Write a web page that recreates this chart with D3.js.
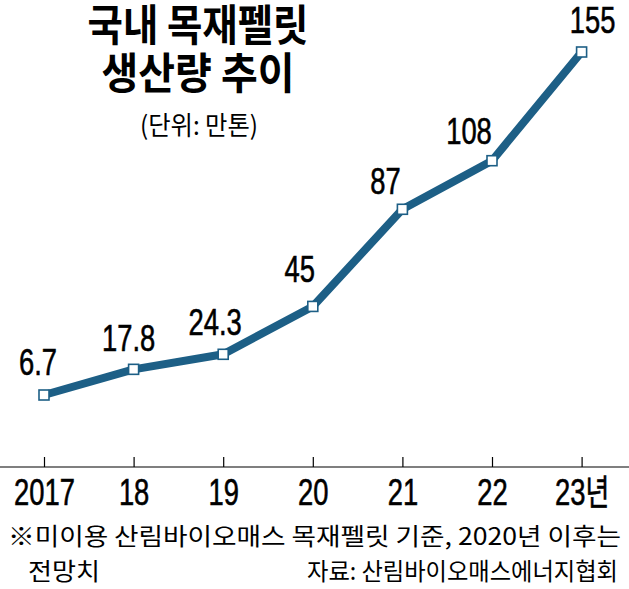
<!DOCTYPE html>
<html>
<head>
<meta charset="utf-8">
<script src="https://cdn.jsdelivr.net/npm/d3@7"></script>
<style>
  body { margin: 0; background: #fff; }
  svg { display: block; }
</style>
</head>
<body>
<svg id="chart" width="629" height="589"></svg>
<script>
const years = ['2017', '18', '19', '20', '21', '22', '23년'];
const values = [6.7, 17.8, 24.3, 45, 87, 108, 155];
const valueLabels = ['6.7', '17.8', '24.3', '45', '87', '108', '155'];

const width = 629;
const blue = '#1d5f86';
const numFont = '"Liberation Sans", Arial, sans-serif';
const krFont = '"Noto Sans CJK KR", "Noto Sans", sans-serif';
const narrow = 0.74; // the numbers are set in a condensed face

const svg = d3.select('#chart');

const x = d3.scalePoint()
  .domain(years)
  .range([44, 581.6]);
const y = d3.scaleLinear()
  .domain([0, 155])
  .range([410.5, 52]);

// title
svg.append('text')
  .attr('x', 198).attr('y', 41)
  .attr('text-anchor', 'middle')
  .attr('font-family', krFont)
  .attr('font-weight', 'bold')
  .attr('font-size', 43)
  .attr('textLength', 221).attr('lengthAdjust', 'spacingAndGlyphs')
  .text('국내 목재펠릿');
svg.append('text')
  .attr('x', 198).attr('y', 89)
  .attr('text-anchor', 'middle')
  .attr('font-family', krFont)
  .attr('font-weight', 'bold')
  .attr('font-size', 43)
  .attr('textLength', 193).attr('lengthAdjust', 'spacingAndGlyphs')
  .text('생산량 추이');
svg.append('text')
  .attr('x', 199).attr('y', 135)
  .attr('text-anchor', 'middle')
  .attr('font-family', krFont)
  .attr('font-size', 26)
  .attr('textLength', 118).attr('lengthAdjust', 'spacingAndGlyphs')
  .text('(단위: 만톤)');

// x axis
const axis = svg.append('g')
  .attr('transform', 'translate(0,467)')
  .call(d3.axisBottom(x).tickSize(-10).tickSizeOuter(0).tickPadding(0));
axis.select('.domain').remove();
axis.append('line')
  .attr('x1', 0).attr('x2', width)
  .attr('stroke', '#000').attr('stroke-width', 1.2);
axis.selectAll('.tick line').attr('stroke', '#000').attr('stroke-width', 1.2);
axis.selectAll('.tick text')
  .attr('y', 0).attr('dy', 0)
  .attr('transform', `translate(0,38) scale(${narrow},1)`)
  .attr('fill', '#000')
  .attr('stroke', '#000').attr('stroke-width', 0.6)
  .attr('font-family', numFont)
  .attr('font-size', 37)
  .each(function (d) {
    if (d === '23년') {
      const t = d3.select(this).text(null);
      t.append('tspan').attr('font-family', numFont).text('23');
      t.append('tspan').attr('font-family', krFont).attr('font-size', 35).text('년');
    }
  });

// line
const line = d3.line()
  .x((d, i) => x(years[i]))
  .y((d) => y(d));
svg.append('path')
  .datum(values)
  .attr('fill', 'none')
  .attr('stroke', blue)
  .attr('stroke-width', 8)
  .attr('stroke-linejoin', 'round')
  .attr('d', line);

svg.selectAll('.marker')
  .data(values)
  .enter().append('rect')
  .attr('class', 'marker')
  .attr('x', (d, i) => x(years[i]) - 5)
  .attr('y', (d) => y(d) - 5)
  .attr('width', 10)
  .attr('height', 10)
  .attr('fill', '#fff')
  .attr('stroke', blue)
  .attr('stroke-width', 1.6);

// value labels, placed up-left of the points
const labelDx = [-6, -5, -8, -13, -17, -23, 11];
const labelDy = [-20, -18, -19, -24, -15, -17, -19];
svg.selectAll('.label')
  .data(values)
  .enter().append('text')
  .attr('class', 'label')
  .attr('transform', (d, i) =>
    `translate(${x(years[i]) + labelDx[i]},${y(d) + labelDy[i]}) scale(${narrow},1)`)
  .attr('text-anchor', 'middle')
  .attr('font-family', numFont)
  .attr('font-size', 37)
  .attr('fill', '#000')
  .attr('stroke', '#000').attr('stroke-width', 0.6)
  .text((d, i) => valueLabels[i]);

// footnotes
svg.append('text')
  .attr('x', 8).attr('y', 545)
  .attr('font-family', krFont)
  .attr('font-size', 24)
  .attr('textLength', 613).attr('lengthAdjust', 'spacingAndGlyphs')
  .text('※미이용 산림바이오매스 목재펠릿 기준, 2020년 이후는');
svg.append('text')
  .attr('x', 28).attr('y', 580)
  .attr('font-family', krFont)
  .attr('font-size', 24)
  .attr('textLength', 72).attr('lengthAdjust', 'spacingAndGlyphs')
  .text('전망치');
svg.append('text')
  .attr('x', 307).attr('y', 580)
  .attr('font-family', krFont)
  .attr('font-size', 24)
  .attr('textLength', 311).attr('lengthAdjust', 'spacingAndGlyphs')
  .text('자료: 산림바이오매스에너지협회');
</script>
</body>
</html>
